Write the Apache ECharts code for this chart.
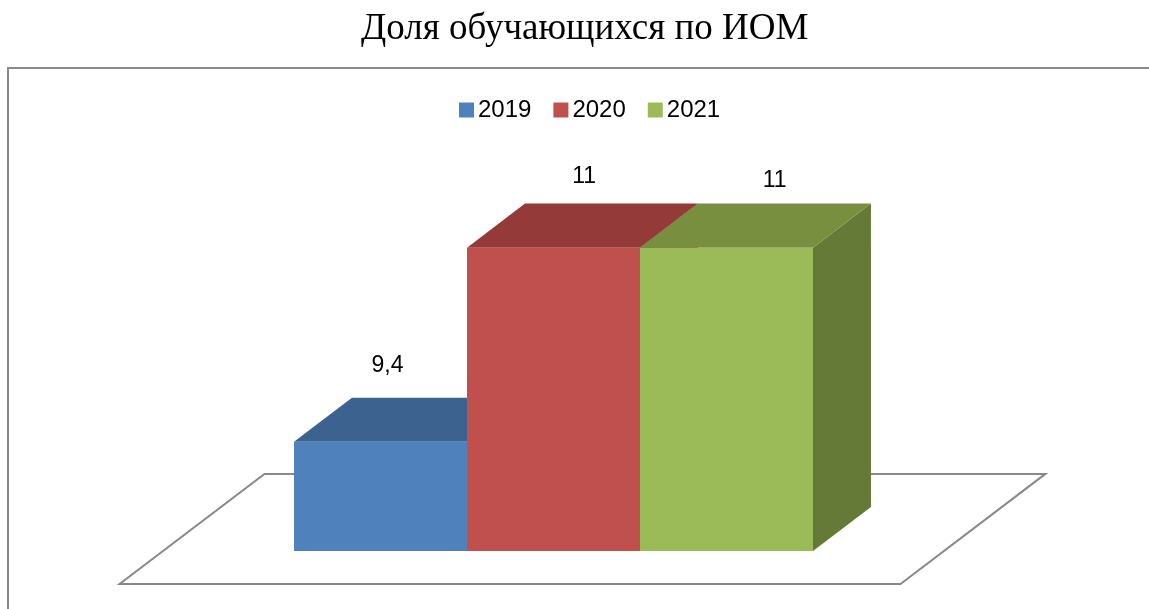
<!DOCTYPE html>
<html>
<head>
<meta charset="utf-8">
<script src="https://cdn.jsdelivr.net/npm/echarts@6/dist/echarts.min.js"></script>
<style>
  html, body { margin: 0; padding: 0; background: #fff; }
  #chart { width: 1149px; height: 609px; }
</style>
</head>
<body>
<div id="chart"></div>
<script>
  // данные
  var years = ['2019', '2020', '2021'];
  var values = [9.4, 11, 11];
  var labels = ['9,4', '11', '11'];

  var frontColors = ['#4f81bd', '#c0504d', '#9bbb59'];
  var topColors = ['#3c628f', '#943b39', '#778f3e'];
  var sideColors = ['#35557d', '#7f3330', '#667a38'];
  // сдвиг подписей как в Excel (доля глубины по x, пиксели над верхом)
  var labelShiftX = [0.12, 0.53, 0.83];
  var labelShiftY = [32, 27, 23];

  var yMin = 8.5, yMax = 11.5;

  var myChart = echarts.init(document.getElementById('chart'));

  // 3D столбик: передняя грань, верх, бок
  function barItem(idx) {
    return function (params, api) {
      var cat = api.value(0);
      var val = api.value(1);
      var top = api.coord([cat, val]);
      var base = api.coord([cat, yMin]);
      var w = api.size([1, 0])[0];
      var x0 = top[0] - w / 2, x1 = top[0] + w / 2;
      var dx = w * 0.335, dy = dx * 0.76;
      return {
        type: 'group',
        children: [
          { type: 'polygon', shape: { points: [[x1, top[1]], [x1 + dx, top[1] - dy], [x1 + dx, base[1] - dy], [x1, base[1]]] },
            style: { fill: sideColors[idx] } },
          { type: 'polygon', shape: { points: [[x0, top[1]], [x1, top[1]], [x1 + dx, top[1] - dy], [x0 + dx, top[1] - dy]] },
            style: { fill: topColors[idx] } },
          { type: 'rect', shape: { x: x0, y: top[1], width: w, height: base[1] - top[1] },
            style: { fill: frontColors[idx] } },
          { type: 'text', x: top[0] + dx * labelShiftX[idx], y: top[1] - dy - labelShiftY[idx],
            style: { text: labels[idx], fill: '#000', font: '23px "Liberation Sans"', align: 'center', verticalAlign: 'middle' } }
        ]
      };
    };
  }

  // пол
  function floorItem(params, api) {
    var cs = params.coordSys;
    var w = api.size([1, 0])[0];
    var dx = w * 0.335, dy = dx * 0.76;
    var m = w * 0.757;
    var yb = cs.y + cs.height;
    var l = cs.x - m, r = cs.x + cs.width + m;
    return {
      type: 'polygon',
      shape: { points: [
        [l - 0.75 * dx, yb + 0.75 * dy], [r - 0.75 * dx, yb + 0.75 * dy],
        [r + 1.75 * dx, yb - 1.75 * dy], [l + 1.75 * dx, yb - 1.75 * dy]
      ] },
      style: { fill: '#fff', stroke: '#898989', lineWidth: 2 }
    };
  }

  var series = [{
    type: 'custom', name: 'floor', silent: true, z: 1,
    renderItem: floorItem,
    data: [[0, yMin]]
  }];
  years.forEach(function (y, i) {
    series.push({
      type: 'custom', name: y, z: 2 + i,
      itemStyle: { color: frontColors[i] },
      renderItem: barItem(i),
      encode: { x: 0, y: 1 },
      data: [[i, values[i]]]
    });
  });

  myChart.setOption({
    animation: false,
    title: {
      text: 'Доля обучающихся по ИОМ',
      left: 356, top: 6,
      textStyle: { fontFamily: 'Liberation Serif', fontSize: 37, fontWeight: 'normal', color: '#000' }
    },
    graphic: [{
      type: 'rect', z: -1,
      shape: { x: 8, y: 68, width: 1160, height: 560 },
      style: { fill: 'none', stroke: '#898989', lineWidth: 2 }
    }],
    legend: {
      data: years,
      left: 454, top: 93,
      icon: 'rect', itemWidth: 15, itemHeight: 15, itemGap: 22,
      textStyle: { fontFamily: 'Liberation Sans', fontSize: 24, color: '#000', padding: [0, 0, 0, -1] }
    },
    grid: { left: 294, right: 1149 - 813, top: 187, bottom: 58 },
    xAxis: { type: 'category', data: years, show: false },
    yAxis: { type: 'value', min: yMin, max: yMax, show: false },
    series: series
  });
</script>
</body>
</html>
